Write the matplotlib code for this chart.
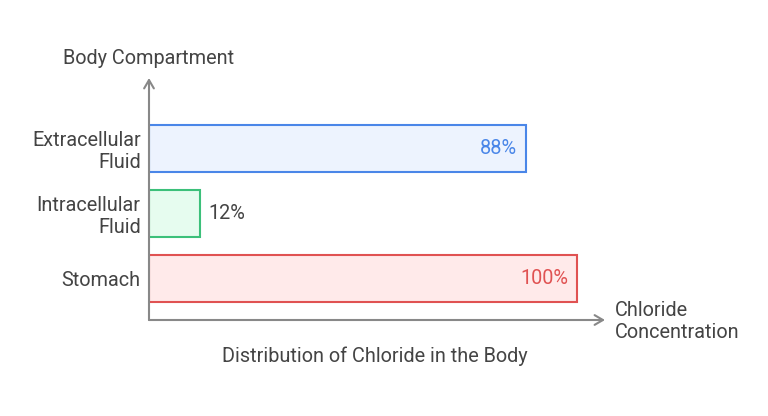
import matplotlib
matplotlib.use("Agg")
import matplotlib.pyplot as plt

categories = ["Stomach", "Intracellular\nFluid", "Extracellular\nFluid"]
values = [100, 12, 88]
labels = ["100%", "12%", "88%"]
edge_colors = ["#e05252", "#3cc07a", "#4a86e8"]
fill_colors = ["#ffeaea", "#e6fcef", "#edf3fe"]
inside = [True, False, True]

plt.rcParams['font.family'] = ['Roboto', 'DejaVu Sans']
FS = 14.3
W, H = 768, 416
fig = plt.figure(figsize=(W/100, H/100), dpi=100)
x0, y0, x1, y1 = 149, 320, 605, 78
ax = fig.add_axes([x0/W, (H-y0)/H, (x1-x0)/W, (y0-y1)/H])
ax.set_xlim(0, (x1-x0)/4.28)
ax.set_ylim(-0.64, 3.08)
ypos = list(range(len(categories)))
ax.barh(ypos, values, height=0.72, color=fill_colors, edgecolor=edge_colors, linewidth=1.5)
for y, v, lab, c, ins in zip(ypos, values, labels, edge_colors, inside):
    if ins:
        ax.annotate(lab, (v, y), xytext=(-6, 0), textcoords="offset points", ha="right", va="center", color=c, fontsize=FS)
    else:
        ax.annotate(lab, (v, y), xytext=(6, 0), textcoords="offset points", ha="left", va="center", color="#444444", fontsize=FS)
ax.set_yticks(ypos)
ax.set_yticklabels(categories, fontsize=FS, color="#444444", ha="right", linespacing=1.2)
ax.tick_params(axis="y", length=0, pad=6)
ax.set_xticks([])
for s in ax.spines.values():
    s.set_visible(False)
gray = "#888888"
ax.annotate("", xy=(1, 0), xycoords="axes fraction", xytext=(0, 0),
            arrowprops=dict(arrowstyle="->,head_length=0.6,head_width=0.35", color=gray, lw=1.5, shrinkA=0, shrinkB=0))
ax.annotate("", xy=(0, 1), xycoords="axes fraction", xytext=(0, 0),
            arrowprops=dict(arrowstyle="->,head_length=0.6,head_width=0.35", color=gray, lw=1.5, shrinkA=0, shrinkB=0))
fig.text(149/W, 1-59/H, "Body Compartment", ha="center", va="center", fontsize=FS, color="#444444")
fig.text(615/W, 1-321/H, "Chloride\nConcentration", ha="left", va="center", fontsize=FS, color="#444444", linespacing=1.2)
fig.text(375/W, 1-356/H, "Distribution of Chloride in the Body", ha="center", va="center", fontsize=FS, color="#444444")
fig.savefig("out.png", dpi=100)
